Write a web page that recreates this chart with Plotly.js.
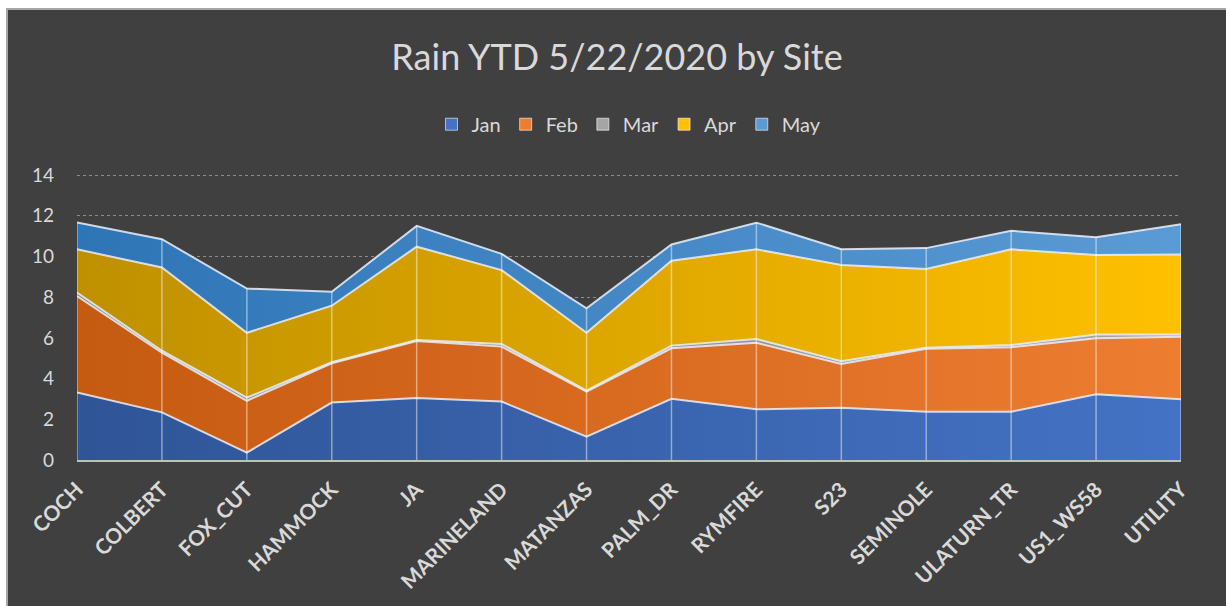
<!DOCTYPE html>
<html>
<head>
<meta charset="utf-8">
<script src="https://cdn.plot.ly/plotly-3.0.1.min.js"></script>
<style>
  html, body { margin: 0; padding: 0; background: #ffffff; width: 1226px; height: 606px; overflow: hidden; }
  #frame { position: absolute; left: 6px; top: 8px; width: 1220px; height: 598px; border-left: 2px solid #A6A6A6; border-top: 2px solid #A6A6A6; background: #404040; }
  #chart { width: 1218px; height: 596px; }
</style>
</head>
<body>
<div id="frame"><div id="chart"></div></div>
<script>
const sites = ["COCH","COLBERT","FOX_CUT","HAMMOCK","JA","MARINELAND","MATANZAS","PALM_DR","RYMFIRE","S23","SEMINOLE","ULATURN_TR","US1_WS58","UTILITY"];
const jan = [3.32, 2.34, 0.36, 2.82, 3.05, 2.87, 1.15, 3.01, 2.49, 2.57, 2.37, 2.37, 3.23, 2.98];
const feb = [4.73, 2.93, 2.55, 1.93, 2.80, 2.70, 2.21, 2.48, 3.27, 2.15, 3.10, 3.17, 2.75, 3.08];
const mar = [0.18, 0.10, 0.15, 0.05, 0.05, 0.13, 0.05, 0.13, 0.18, 0.13, 0.05, 0.11, 0.18, 0.11];
const apr = [2.12, 4.09, 3.19, 2.78, 4.58, 3.63, 2.84, 4.17, 4.41, 4.73, 3.86, 4.70, 3.91, 3.93];
const may = [1.32, 1.39, 2.17, 0.69, 1.02, 0.80, 1.20, 0.80, 1.31, 0.78, 1.03, 0.91, 0.87, 1.48];
const yTicks = [0, 2, 4, 6, 8, 10, 12, 14];

const seriesNames = ["Jan","Feb","Mar","Apr","May"];
const seriesVals = [jan, feb, mar, apr, may];
const gradients = [
  ["#2F5597", "#4472C4"],
  ["#C55A11", "#ED7D31"],
  ["#7F7F7F", "#A5A5A5"],
  ["#BF9000", "#FFC000"],
  ["#2E75B6", "#5B9BD5"]
];

const traces = seriesNames.map((name, i) => ({
  type: "scatter",
  mode: "lines",
  name: name,
  x: sites,
  y: seriesVals[i],
  stackgroup: "rain",
  showlegend: false,
  line: { color: "rgba(235,240,250,0.85)", width: 2 },
  fillcolor: gradients[i][1],
  fillgradient: { type: "horizontal", colorscale: [[0, gradients[i][0]], [1, gradients[i][1]]] },
  hoverinfo: "x+y+name"
}));

// drop lines from the axis to the stack total at each site
const totals = sites.map((s, k) => seriesVals.reduce((a, arr) => a + arr[k], 0));
const dropX = [], dropY = [];
sites.forEach((s, k) => { dropX.push(s, s, null); dropY.push(0, totals[k], null); });
traces.push({
  type: "scatter", mode: "lines", x: dropX, y: dropY, showlegend: false, hoverinfo: "skip",
  line: { color: "rgba(255,255,255,0.45)", width: 1.5 }
});

// legend entries (square swatches)
seriesNames.forEach((name, i) => {
  traces.push({
    type: "bar", name: name, x: [null], y: [null], showlegend: true, hoverinfo: "skip",
    marker: { color: gradients[i][1], line: { color: "rgba(255,255,255,0.6)", width: 1 } }
  });
});

const layout = {
  width: 1218, height: 596,
  paper_bgcolor: "#404040", plot_bgcolor: "#404040",
  margin: { l: 69, r: 45, t: 163, b: 146 },
  font: { family: "Lato, 'Open Sans', sans-serif", color: "#D9D9D9" },
  title: { text: "Rain YTD 5/22/2020 by Site", x: 0.5, xanchor: "center", y: 0.92, yanchor: "middle",
           font: { family: "Lato, 'Open Sans', sans-serif", size: 36, color: "#D9D9D9" } },
  showlegend: true,
  legend: { orientation: "h", x: 0.5, xanchor: "center", y: 1.17, yanchor: "middle",
            font: { size: 20, color: "#D9D9D9" }, traceorder: "normal", itemwidth: 30, tracegroupgap: 0,
            bgcolor: "rgba(0,0,0,0)" },
  xaxis: {
    type: "category", range: [0, sites.length - 1], tickangle: -45,
    showgrid: false, zeroline: false, showline: true, linecolor: "#BFBFBF", linewidth: 2,
    ticks: "", ticklabelstandoff: 7,
    tickfont: { size: 21, color: "#D9D9D9", family: "Lato, sans-serif", weight: "bold" },
    fixedrange: true
  },
  yaxis: {
    range: [0, 14.1], tickvals: yTicks, ticktext: yTicks.map(String),
    showgrid: true, gridcolor: "#8C8C8C", griddash: "dot", gridwidth: 1,
    zeroline: false, showline: false, ticks: "", ticklabelstandoff: 22,
    tickfont: { size: 19, color: "#D9D9D9" }, fixedrange: true
  },
  hovermode: false
};

Plotly.newPlot("chart", traces, layout, { displayModeBar: false, staticPlot: true });
</script>
</body>
</html>
